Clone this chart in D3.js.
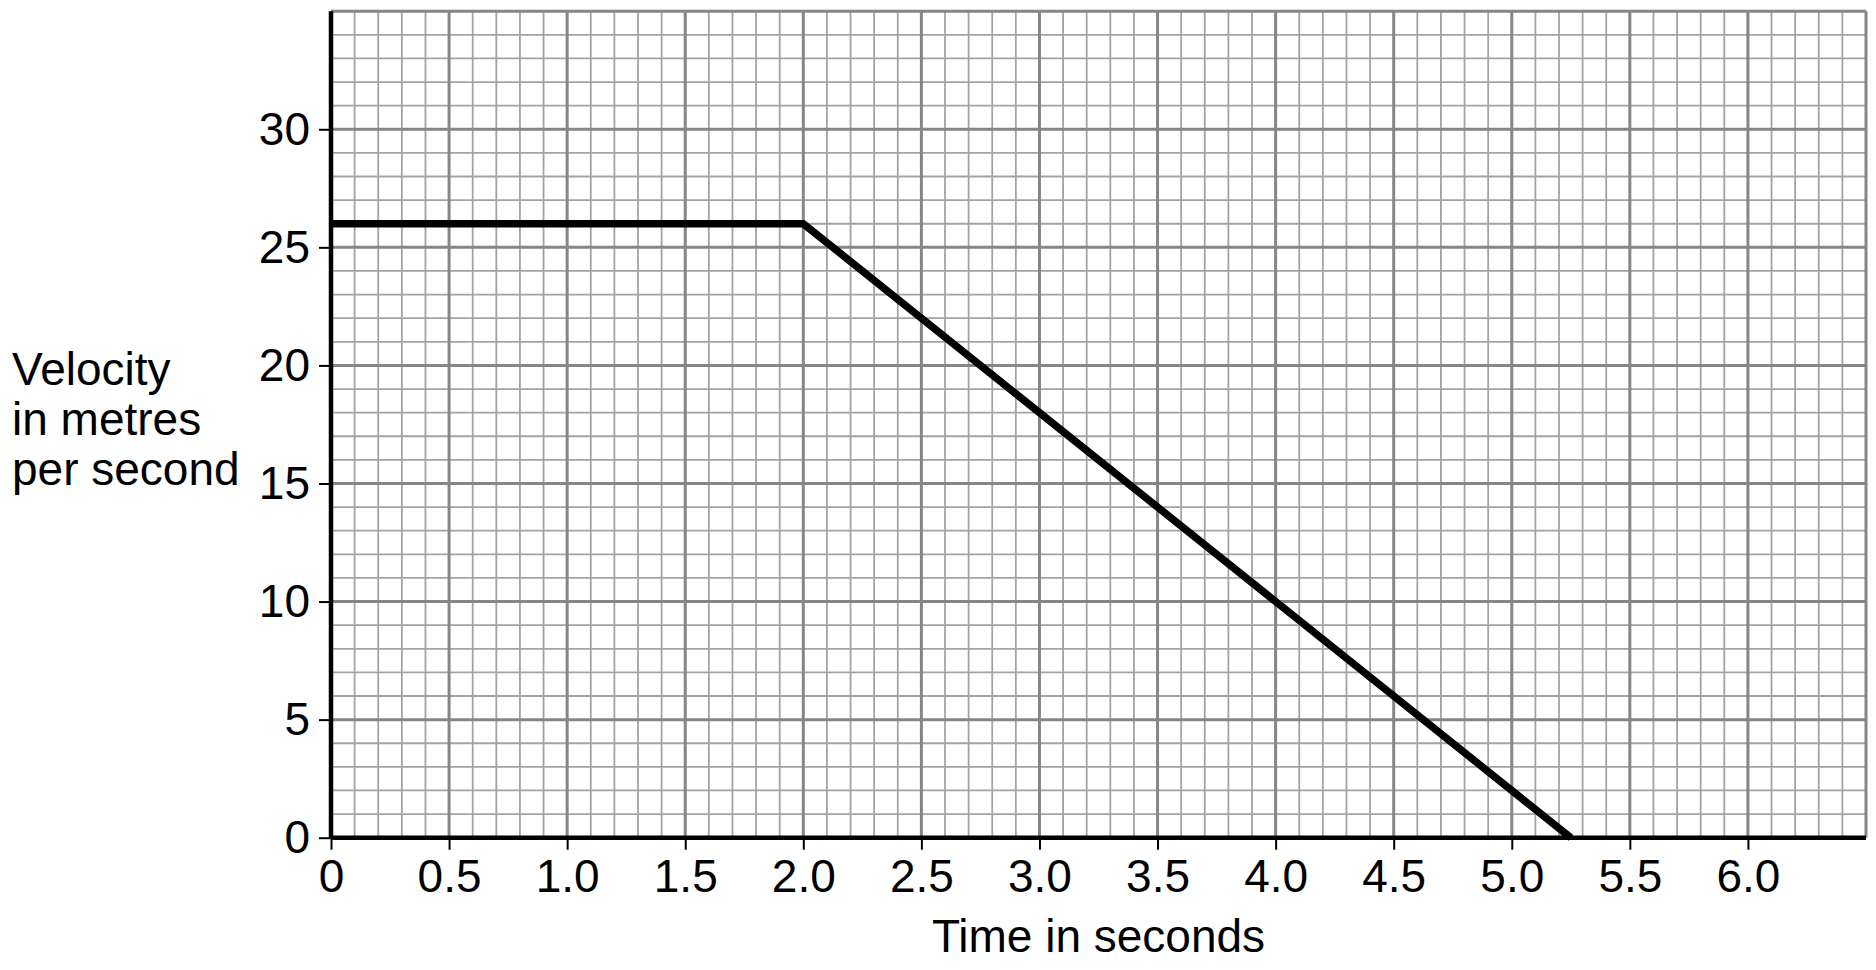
<!DOCTYPE html>
<html>
<head>
<meta charset="utf-8">
<script src="https://cdnjs.cloudflare.com/ajax/libs/d3/7.8.5/d3.min.js"></script>
<style>
  html, body { margin: 0; padding: 0; background: #fff; }
  svg { display: block; font-family: "Liberation Sans", Arial, sans-serif; }
</style>
</head>
<body>
<div id="chart"></div>
<script>
// velocity-time data (time in s, velocity in m/s)
var times = [0, 2.0, 5.25];
var velocities = [26, 26, 0];

var xTicks = [0, 0.5, 1.0, 1.5, 2.0, 2.5, 3.0, 3.5, 4.0, 4.5, 5.0, 5.5, 6.0];
var xTickLabels = ['0', '0.5', '1.0', '1.5', '2.0', '2.5', '3.0', '3.5', '4.0', '4.5', '5.0', '5.5', '6.0'];
var yTicks = [0, 5, 10, 15, 20, 25, 30];
var xMax = 6.5, yMax = 35;

var xLabel = 'Time in seconds';
var yLabelLines = ['Velocity', 'in metres', 'per second'];

var W = 1876, H = 970;
var margin = { top: 11.2, right: 10, bottom: 132.3, left: 331 },
  width = W - margin.left - margin.right,
  height = H - margin.top - margin.bottom;

var fontSize = '46px';

var svg = d3.select('#chart')
  .append('svg')
    .attr('width', W)
    .attr('height', H)
  .append('g')
    .attr('transform', 'translate(' + margin.left + ',' + margin.top + ')');

var x = d3.scaleLinear().domain([0, xMax]).range([0, width]);
var y = d3.scaleLinear().domain([0, yMax]).range([height, 0]);

// minor grid, 0.1 s and 1 m/s
var minorX = d3.range(0, 66).map(d => d / 10).filter(d => Math.round(d * 10) % 5 !== 0);
var minorY = d3.range(0, 36).filter(d => d % 5 !== 0);
var majorX = d3.range(0, 14).map(d => d / 2);
var majorY = d3.range(0, 8).map(d => d * 5);

var grid = svg.append('g');
grid.selectAll('.vminor').data(minorX).enter().append('line')
  .attr('x1', d => x(d)).attr('x2', d => x(d))
  .attr('y1', 0).attr('y2', height)
  .attr('stroke', '#a3a3a3').attr('stroke-width', 1.8);
grid.selectAll('.hminor').data(minorY).enter().append('line')
  .attr('x1', 0).attr('x2', width)
  .attr('y1', d => y(d)).attr('y2', d => y(d))
  .attr('stroke', '#a3a3a3').attr('stroke-width', 1.8);
grid.selectAll('.vmajor').data(majorX).enter().append('line')
  .attr('x1', d => x(d)).attr('x2', d => x(d))
  .attr('y1', 0).attr('y2', height)
  .attr('stroke', '#868686').attr('stroke-width', 3);
grid.selectAll('.hmajor').data(majorY).enter().append('line')
  .attr('x1', 0).attr('x2', width)
  .attr('y1', d => y(d)).attr('y2', d => y(d))
  .attr('stroke', '#868686').attr('stroke-width', 3);

// axes
var xAxis = svg.append('g')
  .attr('transform', 'translate(0,' + height + ')')
  .call(d3.axisBottom(x).tickValues(xTicks).tickFormat((d, i) => xTickLabels[i])
    .tickSize(12).tickSizeOuter(0).tickPadding(10));
var yAxis = svg.append('g')
  .call(d3.axisLeft(y).tickValues(yTicks).tickFormat(d3.format('d'))
    .tickSize(12).tickSizeOuter(0).tickPadding(9));

[xAxis, yAxis].forEach(function (a) {
  a.select('.domain').attr('stroke', '#000').attr('stroke-width', 4.5);
  a.selectAll('.tick line').attr('stroke', '#000').attr('stroke-width', 2);
  a.selectAll('.tick text')
    .attr('fill', '#000')
    .style('font-size', fontSize)
    .style('font-family', '"Liberation Sans", Arial, sans-serif');
});
xAxis.select('.domain').attr('d', 'M0,0H' + width);
yAxis.select('.domain').attr('d', 'M0,' + height + 'V0');

// velocity line
var line = d3.line().x(d => x(d[0])).y(d => y(d[1]));
svg.append('path')
  .datum(times.map((t, i) => [t, velocities[i]]))
  .attr('d', line)
  .attr('fill', 'none')
  .attr('stroke', '#000')
  .attr('stroke-width', 7.5)
  .attr('stroke-linejoin', 'miter');

// axis titles
svg.append('text')
  .attr('x', width / 2)
  .attr('y', height + 114)
  .attr('text-anchor', 'middle')
  .style('font-size', fontSize)
  .attr('fill', '#000')
  .text(xLabel);

svg.append('g')
  .selectAll('text')
  .data(yLabelLines)
  .enter()
  .append('text')
    .attr('x', 12 - margin.left)
    .attr('y', (d, i) => 385 + i * 50 - margin.top)
    .style('font-size', fontSize)
    .attr('fill', '#000')
    .text(d => d);
</script>
</body>
</html>
